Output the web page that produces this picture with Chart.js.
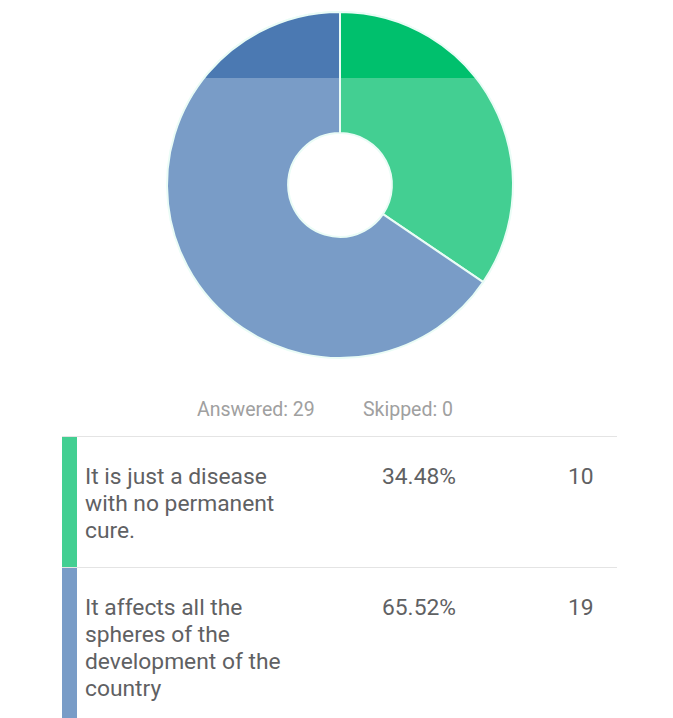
<!DOCTYPE html>
<html lang="en">
<head>
  <meta charset="UTF-8" />
  <title>Survey result</title>
  <script src="https://cdn.jsdelivr.net/npm/chart.js"></script>
  <style>
    html, body { margin: 0; padding: 0; background: #fff; }
    body { width: 673px; height: 718px; overflow: hidden; font-family: Roboto, "Noto Sans", sans-serif; position: relative; }
    .chart-box { position: absolute; left: 0; top: 0; width: 673px; height: 370px; }
    .stats { position: absolute; top: 398px; left: 0; width: 673px; font-size: 19.5px; color: #a0a0a0; }
    .stats span { position: absolute; top: 0; }
    table { position: absolute; left: 62px; top: 436px; width: 555px; border-collapse: collapse; }
    td { vertical-align: top; font-size: 22.8px; line-height: 27px; color: #5f6163; padding: 0; }
    tr { border-top: 1px solid #e4e4e4; }
    td.bar { width: 15px; }
    td.label { padding: 26px 0 0 8px; width: 290px; }
    td.pct { padding-top: 26px; padding-left: 7px; width: 186px; }
    td.cnt { padding-top: 26px; }
  </style>
</head>
<body>
  <div class="chart-box"><canvas id="pie"></canvas></div>
  <div class="stats">
    <span style="left:197px">Answered: 29</span>
    <span style="left:363px">Skipped: 0</span>
  </div>
  <table id="answers"></table>

  <script>
    const answers = [
      ["It is just a disease", "with no permanent", "cure."],
      ["It affects all the", "spheres of the", "development of the", "country"]
    ];
    const percents = ["34.48%", "65.52%"];
    const counts = [10, 19];

    const colors = ['#43cf92', '#799cc7'];
    const topColors = ['#00c06d', '#4b79b2'];
    const rowHeights = [131, 151];

    // table under the chart
    const table = document.getElementById('answers');
    answers.forEach((lines, i) => {
      const tr = document.createElement('tr');
      tr.style.height = rowHeights[i] + 'px';
      tr.innerHTML =
        `<td class="bar" style="background:${colors[i]}"></td>` +
        `<td class="label">${lines.join('<br>')}</td>` +
        `<td class="pct">${percents[i]}</td>` +
        `<td class="cnt">${counts[i]}</td>`;
      table.appendChild(tr);
    });

    // darker band across the top of the ring
    const topBand = {
      id: 'topBand',
      afterDatasetsDraw(chart) {
        const ctx = chart.ctx;
        const meta = chart.getDatasetMeta(0);
        meta.data.forEach((arc, i) => {
          ctx.save();
          ctx.beginPath();
          ctx.rect(0, 0, chart.width, 78);
          ctx.clip();
          const old = arc.options.backgroundColor;
          arc.options.backgroundColor = topColors[i];
          arc.draw(ctx);
          arc.options.backgroundColor = old;
          ctx.restore();
        });
      }
    };

    new Chart(document.getElementById('pie'), {
      type: 'doughnut',
      data: {
        labels: answers.map(l => l.join(' ')),
        datasets: [{
          data: counts,
          backgroundColor: colors,
          borderColor: '#eafcf6',
          borderWidth: 2
        }]
      },
      options: {
        responsive: true,
        maintainAspectRatio: false,
        animation: false,
        cutout: '30%',
        layout: { padding: { top: 11, bottom: 11, left: 7 } },
        plugins: {
          legend: { display: false },
          tooltip: { enabled: false }
        }
      },
      plugins: [topBand]
    });
  </script>
</body>
</html>
